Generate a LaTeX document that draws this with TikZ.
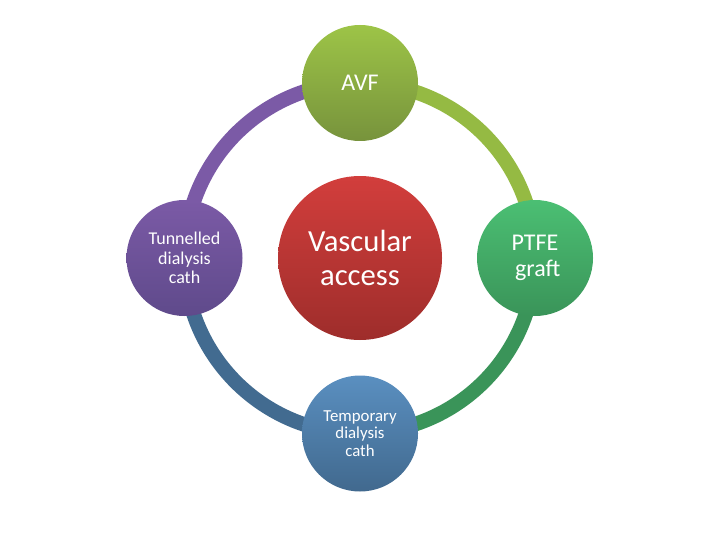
\documentclass[tikz,border=0pt]{standalone}
\usepackage{fontspec}
\setmainfont{Carlito}
\usetikzlibrary{backgrounds}
\definecolor{cpurple}{HTML}{7B5AA6}
\definecolor{cpurpled}{HTML}{5F4A8B}
\definecolor{clime}{HTML}{9DC447}
\definecolor{climed}{HTML}{77933C}
\definecolor{cgreen}{HTML}{4BBF73}
\definecolor{cgreend}{HTML}{3A9459}
\definecolor{cblue}{HTML}{5A8FC0}
\definecolor{cblued}{HTML}{41698E}
\definecolor{cred}{HTML}{D23E3C}
\definecolor{credd}{HTML}{9E2D2B}
\tikzset{
  every picture/.style={x=0.75pt, y=0.75pt},
  bubble/.style={circle, draw=none, minimum size=116*0.75pt, inner sep=0pt,
    top color=#1, text=white, align=center},
  ring/.style={draw=#1, line width=11pt},
}

\begin{document}
\begin{tikzpicture}
  \useasboundingbox (0,0) rectangle (720,540);
  % hub and the four satellites
  \node[bubble=cred, bottom color=credd, minimum size=164*0.75pt,
        font=\fontsize{23}{25.5}\selectfont] (va) at (360,282) {Vascular\\access};
  \node[bubble=clime, bottom color=climed, font=\fontsize{18}{20}\selectfont]
        (avf) at (360,457) {AVF};
  \node[bubble=cpurple, bottom color=cpurpled, font=\fontsize{13.5}{14.5}\selectfont]
        (tun) at (184.5,282) {Tunnelled\\dialysis\\ cath};
  \node[bubble=cgreen, bottom color=cgreend, font=\fontsize{18}{19}\selectfont]
        (ptfe) at (535,282) {PTFE\\ \ graft};
  \node[bubble=cblue, bottom color=cblued, font=\fontsize{12.6}{13.3}\selectfont]
        (tmp) at (360,106.5) {Temporary\\dialysis\\ cath};
  % ring segments behind the bubbles
  \begin{scope}[on background layer]
    \draw[ring=cpurple] (tun.center) arc[start angle=180, end angle=90, radius=175.5];
    \draw[ring=clime!95!black] (avf.center) arc[start angle=90, end angle=0, radius=175];
    \draw[ring=cgreend] (ptfe.center) arc[start angle=0, end angle=-90, radius=175];
    \draw[ring=cblued!95!cblue] (tmp.center) arc[start angle=270, end angle=180, radius=175.5];
  \end{scope}
\end{tikzpicture}
\end{document}
